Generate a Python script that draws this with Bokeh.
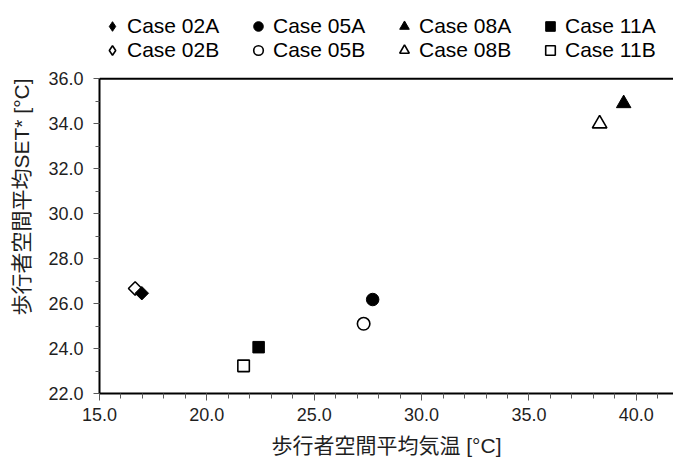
import numpy as np
from bokeh.plotting import figure
from bokeh.models import (Range1d, SingleIntervalTicker, Span,
                          PrintfTickFormatter, Legend, LegendItem)
from bokeh.embed import file_html
from bokeh.resources import INLINE

# ---- data ----
cases = ["02", "05", "08", "11"]
x_a = [16.97, 27.72, 39.41, 22.41]   # Case xxA : mean air temperature
y_a = [26.46, 26.18, 34.90, 24.06]   # Case xxA : mean SET*
x_b = [16.66, 27.30, 38.29, 21.71]   # Case xxB
y_b = [26.67, 25.10, 34.00, 23.23]
y_axis_min, y_axis_max = 22.0, 36.0
x_title = "歩行者空間平均気温 [°C]"
y_title = "歩行者空間平均SET* [°C]"

# ---- styles ----
plot_markers = ["square", "circle", "triangle", "square"]
plot_angles = [np.pi / 4, 0, 0, 0]
plot_sizes = [9.5, 12.5, 14.5, 11.5]
legend_markers = ["diamond", "circle", "triangle", "square"]

LATIN = "'Liberation Sans'"
CJK = "'Liberation Sans', 'Noto Sans CJK JP'"

# the frame reaches the top of the canvas so that the legend can sit above the axes box
px_per_unit = 22.5
y_top = y_axis_max + 78.3 / px_per_unit

p = figure(width=673, height=461, output_backend="svg", toolbar_location=None,
           x_range=Range1d(15, 41.73), y_range=Range1d(y_axis_min, y_top),
           min_border_left=99, min_border_right=0, min_border_top=0, min_border_bottom=68,
           outline_line_color=None, background_fill_color="white",
           border_fill_color="white")
p.grid.visible = False

# x axis
xa = p.xaxis[0]
xa.ticker = SingleIntervalTicker(interval=5, num_minor_ticks=5)
xa.formatter = PrintfTickFormatter(format="%.1f")
xa.axis_label = x_title
# y axis
ya = p.yaxis[0]
ya.ticker = SingleIntervalTicker(interval=2, num_minor_ticks=2)
ya.formatter = PrintfTickFormatter(format="%.1f")
ya.axis_label = y_title
ya.bounds = (y_axis_min, y_axis_max)

for ax in (xa, ya):
    ax.axis_line_color = "black"
    ax.axis_line_width = 2
    ax.major_tick_in = 0
    ax.minor_tick_in = 0
    ax.major_tick_line_color = "#595959"
    ax.minor_tick_line_color = "#595959"
    ax.major_label_text_font = LATIN
    ax.major_label_text_font_size = "18px"
    ax.major_label_text_color = "#1f1f1f"
    ax.axis_label_text_font = CJK
    ax.axis_label_text_font_size = "21px"
    ax.axis_label_text_font_style = "normal"
    ax.axis_label_text_color = "#1f1f1f"
xa.major_tick_out = 7
xa.minor_tick_out = 5
xa.major_label_standoff = 7
xa.axis_label_standoff = 10
ya.major_tick_out = 6
ya.minor_tick_out = 4
ya.major_label_standoff = 10
ya.axis_label_standoff = 12

# top edge of the axes box
p.add_layout(Span(location=y_axis_max, dimension="width", line_color="black", line_width=2))

# ---- markers: B series first, A on top ----
rend_a, rend_b = [], []
for i in range(len(cases)):
    rb = p.scatter(x=[x_b[i]], y=[y_b[i]], marker=plot_markers[i], angle=plot_angles[i],
                   size=plot_sizes[i], fill_color="white", line_color="black", line_width=1.6)
    rend_b.append(rb)
for i in range(len(cases)):
    ra = p.scatter(x=[x_a[i]], y=[y_a[i]], marker=plot_markers[i], angle=plot_angles[i],
                   size=plot_sizes[i], fill_color="black", line_color="black", line_width=1)
    rend_a.append(ra)

# legend proxies where the plotted marker is rotated (legend glyphs are never rotated)
def legend_renderer(i, filled, actual):
    if legend_markers[i] == plot_markers[i]:
        return actual
    return p.scatter(x=np.array([np.nan]), y=np.array([np.nan]), marker=legend_markers[i],
                     fill_color="black" if filled else "white", line_color="black",
                     line_width=1 if filled else 1.6)

items = []
for i, c in enumerate(cases):
    items.append(LegendItem(label=f"Case {c}A", renderers=[legend_renderer(i, True, rend_a[i])]))
for i, c in enumerate(cases):
    items.append(LegendItem(label=f"Case {c}B", renderers=[legend_renderer(i, False, rend_b[i])]))

legend = Legend(items=items, location=(-2, 331), ncols=4, orientation="horizontal",
                glyph_width=30, glyph_height=24, label_standoff=-2, spacing=0,
                label_width=116, padding=0, margin=0, border_line_color=None,
                background_fill_alpha=0, label_text_font=LATIN,
                label_text_font_size="21px", label_text_color="black")
p.add_layout(legend)

open("out.html", "w").write(file_html(p, INLINE))
